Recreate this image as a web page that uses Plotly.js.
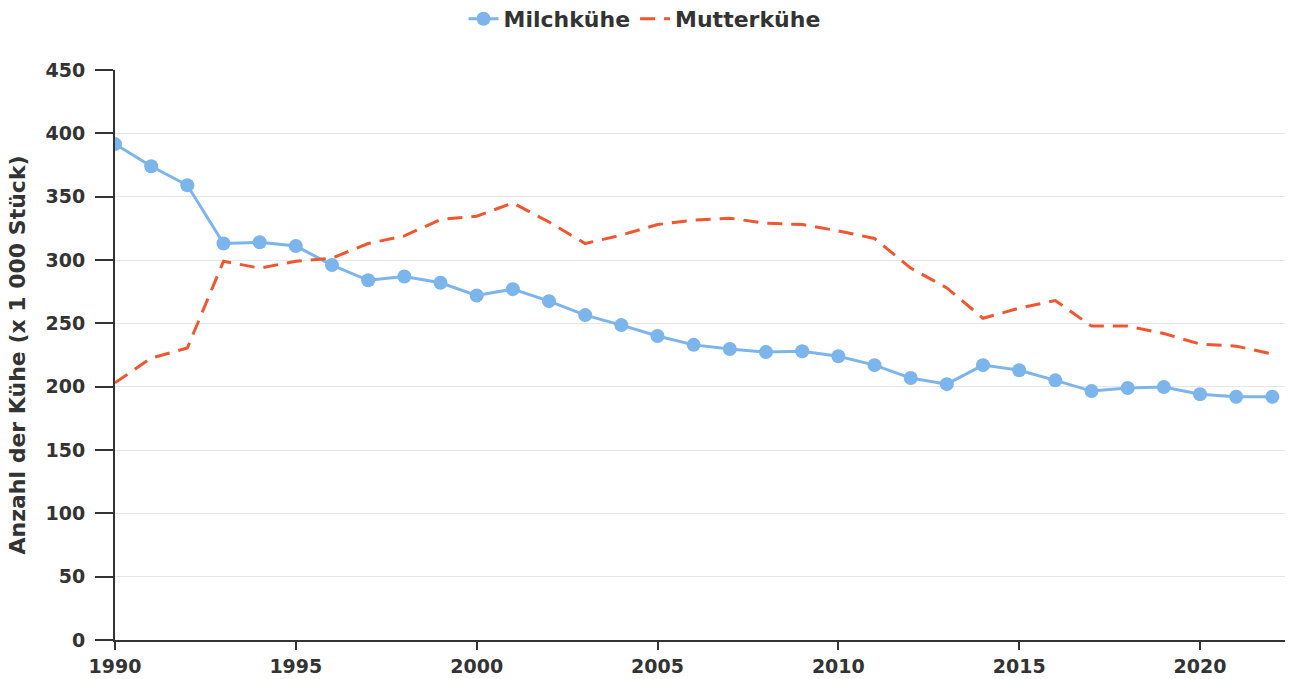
<!DOCTYPE html>
<html>
<head>
<meta charset="utf-8">
<script src="https://cdn.plot.ly/plotly-3.0.1.min.js"></script>
<style>html,body{margin:0;padding:0;background:#fff}#chart{width:1289px;height:679px}</style>
</head>
<body>
<div id="chart"></div>
<script>
const years = [1990,1991,1992,1993,1994,1995,1996,1997,1998,1999,2000,2001,2002,2003,2004,2005,2006,2007,2008,2009,2010,2011,2012,2013,2014,2015,2016,2017,2018,2019,2020,2021,2022];
const milchkuehe = [391.5,374,359,313,314,311,296,284,287,282,272,277,267.5,256.5,248.6,240,233,229.7,227.3,228,224,217,206.8,202,217,213,205,196.5,199,199.7,194,192,192];
const mutterkuehe = [203,222.6,230.5,299,293.6,299,301.5,313,319,332,334.6,345,330,313,319.7,328,331.5,333,329,328,323,317,293.6,278,254,262,268,247.8,247.8,242,233.6,232,225.7];
const seriesNames = ["Milchkühe","Mutterkühe"];
const yTicks = [0,50,100,150,200,250,300,350,400,450];
const xTicks = [1990,1995,2000,2005,2010,2015,2020];

const FF = "DejaVu Sans";
const traces = [
  {x:years, y:milchkuehe, name:seriesNames[0], type:"scatter", mode:"lines+markers",
   line:{color:"#7cb5ec", width:3}, marker:{color:"#7cb5ec", size:14}},
  {x:years, y:mutterkuehe, name:seriesNames[1], type:"scatter", mode:"lines",
   line:{color:"#f0562f", width:3, dash:"15px,9px"}}
];
const layout = {
  width:1289, height:679,
  margin:{l:115, r:4, t:70, b:39, autoexpand:false},
  paper_bgcolor:"#fff", plot_bgcolor:"#fff",
  font:{family:FF, size:18, color:"#333333", weight:"bold"},
  showlegend:true,
  legend:{orientation:"h", x:0.5, xanchor:"center", xref:"container", y:0.972, yref:"container", yanchor:"middle",
          itemwidth:30,
          font:{family:FF, size:22, color:"#333333", weight:"bold"}},
  xaxis:{range:[1990,2022.35], tickvals:xTicks, ticktext:xTicks.map(String), automargin:false,
         showline:true, linecolor:"#333", linewidth:2, ticks:"outside", ticklen:8, tickwidth:2, tickcolor:"#333",
         showgrid:false, zeroline:false,
         tickfont:{family:FF, size:19, color:"#333", weight:"bold"}},
  yaxis:{range:[0,450], tickvals:yTicks, ticktext:yTicks.map(String), automargin:false,
         showline:true, linecolor:"#333", linewidth:2, ticks:"outside", ticklen:18, tickwidth:2, tickcolor:"#333",
         ticklabelstandoff:6,
         showgrid:true, gridcolor:"#e6e6e6", gridwidth:1, zeroline:false,
         tickfont:{family:FF, size:19, color:"#333", weight:"bold"},
         title:{text:"Anzahl der Kühe (x 1 000 Stück)", standoff:14,
                font:{family:FF, size:22, color:"#333", weight:"bold"}}}
};
Plotly.newPlot("chart", traces, layout, {displayModeBar:false, staticPlot:true});
</script>
</body>
</html>
